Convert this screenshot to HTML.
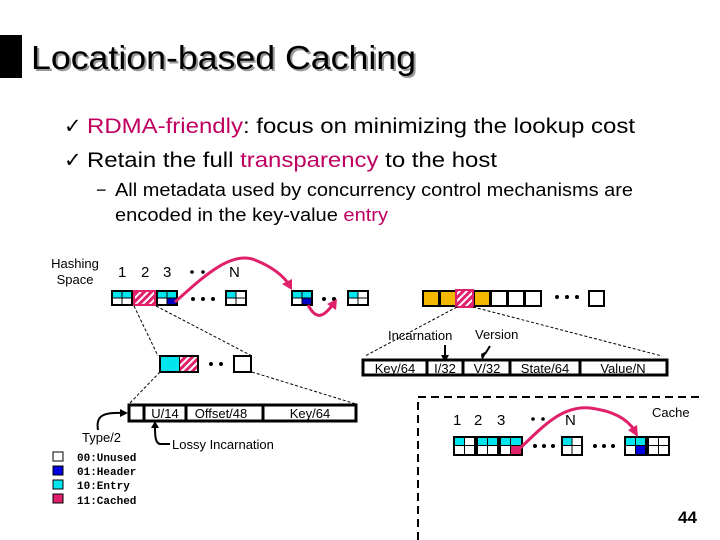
<!DOCTYPE html>
<html><head><meta charset="utf-8"><style>
body{margin:0;background:#fff;}
svg{display:block;font-family:"Liberation Sans",sans-serif;}
</style></head><body>
<svg width="720" height="540" viewBox="0 0 720 540" xmlns="http://www.w3.org/2000/svg">
<defs>
<pattern id="h" width="5" height="5" patternUnits="userSpaceOnUse" patternTransform="rotate(45)">
<rect width="5" height="5" fill="#e0206a"/><rect width="2" height="5" fill="#fff"/></pattern>
</defs>
<rect x="0" y="35" width="22" height="43" fill="#000"/>
<text x="33" y="71" font-size="33" fill="#999" textLength="385" lengthAdjust="spacingAndGlyphs">Location-based Caching</text>
<text x="31" y="69" font-size="33" fill="#000" textLength="385" lengthAdjust="spacingAndGlyphs">Location-based Caching</text>
<g font-size="21">
<text x="64" y="133">✓</text><text x="87" y="133" textLength="548" lengthAdjust="spacingAndGlyphs"><tspan fill="#c00060">RDMA-friendly</tspan>: focus on minimizing the lookup cost</text>
<text x="64" y="167">✓</text><text x="87" y="167" textLength="410" lengthAdjust="spacingAndGlyphs">Retain the full <tspan fill="#c00060">transparency</tspan> to the host</text>
</g>
<g font-size="18"><text x="96" y="196">−</text>
<text x="115" y="196" textLength="518" lengthAdjust="spacingAndGlyphs">All metadata used by concurrency control mechanisms are</text>
<text x="115" y="221" textLength="273" lengthAdjust="spacingAndGlyphs">encoded in the key-value <tspan fill="#c00060">entry</tspan></text></g>
<g font-size="13"><text x="75" y="268" text-anchor="middle">Hashing</text><text x="75" y="284" text-anchor="middle">Space</text></g>
<g font-size="15"><text x="118" y="277">1</text><text x="141" y="277">2</text><text x="163" y="277">3</text><text x="229" y="277">N</text></g>
<g fill="#000"><circle cx="192" cy="272" r="1.8"/><circle cx="203" cy="272" r="1.8"/>
<circle cx="193" cy="299" r="2"/><circle cx="203" cy="299" r="2"/><circle cx="213" cy="299" r="2"/>
<circle cx="324" cy="299" r="2"/><circle cx="334" cy="299" r="2"/>
<circle cx="557" cy="297" r="2"/><circle cx="567" cy="297" r="2"/><circle cx="577" cy="297" r="2"/>
<circle cx="211" cy="364" r="2"/><circle cx="221" cy="364" r="2"/>
<circle cx="533" cy="419" r="1.8"/><circle cx="543" cy="419" r="1.8"/>
<circle cx="535" cy="446" r="2"/><circle cx="544" cy="446" r="2"/><circle cx="553" cy="446" r="2"/>
<circle cx="595" cy="446" r="2"/><circle cx="604" cy="446" r="2"/><circle cx="613" cy="446" r="2"/>
</g>
<g transform="translate(111,290)"><rect width="22" height="16"/><rect x="2" y="2" width="8.5" height="5.5" fill="#00e5ee"/><rect x="11.5" y="2" width="8.5" height="5.5" fill="#00e5ee"/><rect x="2" y="8.5" width="8.5" height="5.5" fill="#fff"/><rect x="11.5" y="8.5" width="8.5" height="5.5" fill="#fff"/></g>
<rect x="134" y="291" width="21" height="14" fill="url(#h)" stroke="#e0206a" stroke-width="2"/>
<g transform="translate(156,290)"><rect width="22" height="16"/><rect x="2" y="2" width="8.5" height="5.5" fill="#00e5ee"/><rect x="11.5" y="2" width="8.5" height="5.5" fill="#00e5ee"/><rect x="2" y="8.5" width="8.5" height="5.5" fill="#fff"/><rect x="11.5" y="8.5" width="8.5" height="5.5" fill="#0000c0"/></g>
<g transform="translate(225,290)"><rect width="22" height="16"/><rect x="2" y="2" width="8.5" height="5.5" fill="#00e5ee"/><rect x="11.5" y="2" width="8.5" height="5.5" fill="#fff"/><rect x="2" y="8.5" width="8.5" height="5.5" fill="#fff"/><rect x="11.5" y="8.5" width="8.5" height="5.5" fill="#fff"/></g>
<g transform="translate(291,290)"><rect width="22" height="16"/><rect x="2" y="2" width="8.5" height="5.5" fill="#00e5ee"/><rect x="11.5" y="2" width="8.5" height="5.5" fill="#00e5ee"/><rect x="2" y="8.5" width="8.5" height="5.5" fill="#fff"/><rect x="11.5" y="8.5" width="8.5" height="5.5" fill="#0000c0"/></g>
<g transform="translate(347,290)"><rect width="22" height="16"/><rect x="2" y="2" width="8.5" height="5.5" fill="#00e5ee"/><rect x="11.5" y="2" width="8.5" height="5.5" fill="#fff"/><rect x="2" y="8.5" width="8.5" height="5.5" fill="#fff"/><rect x="11.5" y="8.5" width="8.5" height="5.5" fill="#fff"/></g>
<g fill="none" stroke="#e0206a" stroke-width="3">
<path d="M175,302 C200,280 230,250 255,260 C275,268 285,278 290,286"/>
<path d="M308,305 C315,318 322,320 333,304"/></g>
<g fill="#e0206a"><path d="M292,290 L282,284 L292,279Z"/><path d="M337,299 L336,310 L327,304Z"/></g>
<rect x="422" y="290" width="120" height="17"/>
<rect x="424" y="292" width="14" height="13" fill="#f5b800"/><rect x="441" y="292" width="14" height="13" fill="#f5b800"/>
<rect x="456" y="290" width="17" height="17" fill="url(#h)" stroke="#e0206a" stroke-width="2"/>
<rect x="475" y="292" width="14" height="13" fill="#f5b800"/><rect x="492" y="292" width="14" height="13" fill="#fff"/>
<rect x="509" y="292" width="14" height="13" fill="#fff"/><rect x="526" y="292" width="14" height="13" fill="#fff"/>
<rect x="588" y="290" width="17" height="17"/><rect x="590" y="292" width="13" height="13" fill="#fff"/>
<g stroke="#000" stroke-dasharray="3,2" fill="none">
<path d="M457,307 L365,356"/><path d="M473,307 L662,356"/>
<path d="M134,306 L158,356"/><path d="M156,306 L252,356"/>
<path d="M160,372 L129,404"/><path d="M252,372 L356,404"/>
</g>
<g font-size="13"><text x="388" y="340">Incarnation</text><text x="475" y="339">Version</text></g>
<g stroke="#000" stroke-width="2"><path d="M445,345 L445,356"/><path d="M490,346 L485,354"/></g>
<path d="M441,355 L449,355 L445,362Z"/><path d="M481,354 L487,351 L482,361Z"/>
<rect x="363" y="360" width="304" height="15" fill="#fff" stroke="#000" stroke-width="3"/>
<g stroke="#000" stroke-width="3"><path d="M427,360V375M463,360V375M510,360V375M580,360V375"/></g>
<g font-size="13" text-anchor="middle"><text x="395" y="373">Key/64</text><text x="445" y="373">I/32</text><text x="487" y="373">V/32</text><text x="545" y="373">State/64</text><text x="623" y="373">Value/N</text></g>
<rect x="159" y="355" width="40" height="18"/><rect x="161" y="357" width="18" height="14" fill="#00e5ee"/>
<rect x="180" y="357" width="17" height="14" fill="url(#h)"/>
<rect x="233" y="355" width="19" height="18"/><rect x="235" y="357" width="15" height="14" fill="#fff"/>
<rect x="129" y="405" width="227" height="16" fill="#fff" stroke="#000" stroke-width="3"/>
<g stroke="#000" stroke-width="3"><path d="M144,405V421M186,405V421M263,405V421"/></g>
<g font-size="13" text-anchor="middle"><text x="165" y="418">U/14</text><text x="221" y="418">Offset/48</text><text x="310" y="418">Key/64</text></g>
<g fill="none" stroke="#000" stroke-width="2">
<path d="M98,430 C96,418 100,412 122,413"/><path d="M170,444 L160,444 C155,443 155,435 155,426"/></g>
<path d="M128,413 L120,409 L120,417Z"/><path d="M155,421 L151,428 L159,428Z"/>
<text x="82" y="442" font-size="13">Type/2</text>
<text x="172" y="449" font-size="13">Lossy Incarnation</text>
<g stroke="#000" stroke-width="1"><rect x="53" y="452" width="10" height="9" fill="#fff"/><rect x="53" y="466" width="10" height="9" fill="#0000e0"/><rect x="53" y="480" width="10" height="9" fill="#00e5ee"/><rect x="53" y="494" width="10" height="9" fill="#e0206a"/></g>
<g font-family="Liberation Mono,monospace" font-size="11" font-weight="bold"><text x="77" y="461">00:Unused</text><text x="77" y="475">01:Header</text><text x="77" y="489">10:Entry</text><text x="77" y="504">11:Cached</text></g>
<path d="M418,540 V397 H700" fill="none" stroke="#000" stroke-width="2" stroke-dasharray="8,5"/>
<text x="652" y="417" font-size="13">Cache</text>
<g font-size="15"><text x="453" y="425">1</text><text x="474" y="425">2</text><text x="497" y="425">3</text><text x="565" y="425">N</text></g>
<g transform="translate(453,436)"><rect width="70" height="20"/>
<g fill="#fff"><rect x="2" y="2" width="9" height="7" fill="#00e5ee"/><rect x="12" y="2" width="9" height="7"/><rect x="2" y="10" width="9" height="8"/><rect x="12" y="10" width="9" height="8"/>
<rect x="25" y="2" width="9" height="7" fill="#00e5ee"/><rect x="35" y="2" width="9" height="7" fill="#00e5ee"/><rect x="25" y="10" width="9" height="8"/><rect x="35" y="10" width="9" height="8"/>
<rect x="48" y="2" width="9" height="7" fill="#00e5ee"/><rect x="58" y="2" width="10" height="7" fill="#00e5ee"/><rect x="48" y="10" width="9" height="8"/><rect x="58" y="10" width="10" height="8" fill="#e0206a"/></g></g>
<g transform="translate(561,436)"><rect width="22" height="20"/><rect x="2" y="2" width="8.5" height="7" fill="#00e5ee"/><rect x="11.5" y="2" width="8.5" height="7" fill="#fff"/><rect x="2" y="10" width="8.5" height="8" fill="#fff"/><rect x="11.5" y="10" width="8.5" height="8" fill="#fff"/></g>
<g transform="translate(624,436)"><rect width="46" height="20"/>
<rect x="2" y="2" width="9" height="7" fill="#00e5ee"/><rect x="12" y="2" width="9" height="7" fill="#00e5ee"/><rect x="2" y="10" width="9" height="8" fill="#fff"/><rect x="12" y="10" width="9" height="8" fill="#0000e0"/>
<rect x="25" y="2" width="9" height="7" fill="#fff"/><rect x="35" y="2" width="9" height="7" fill="#fff"/><rect x="25" y="10" width="9" height="8" fill="#fff"/><rect x="35" y="10" width="9" height="8" fill="#fff"/></g>
<path d="M516,452 C540,430 560,405 590,408 C615,411 628,420 635,431" fill="none" stroke="#e0206a" stroke-width="3"/>
<path d="M638,437 L628,430 L637,425Z" fill="#e0206a"/>
<text x="678" y="523" font-size="17" font-weight="bold">44</text>
</svg>
</body></html>
